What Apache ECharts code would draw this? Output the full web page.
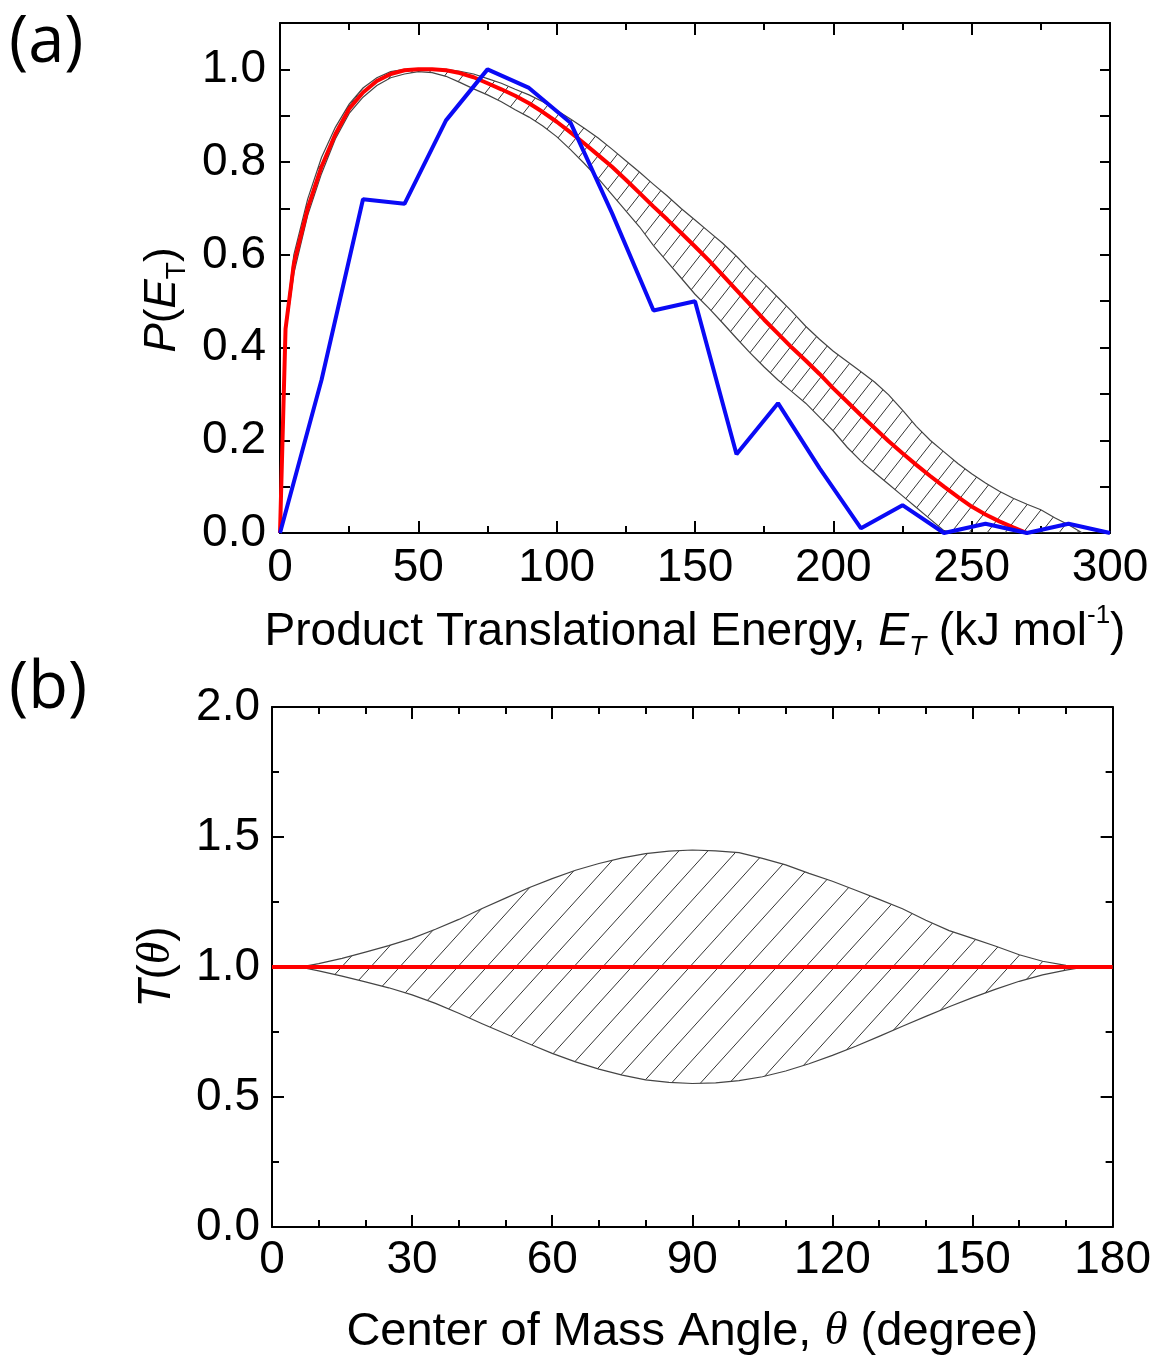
<!DOCTYPE html>
<html><head><meta charset="utf-8">
<script src="https://cdn.jsdelivr.net/npm/echarts@6/dist/echarts.min.js"></script>
<style>html,body{margin:0;padding:0;background:#fff}#c{width:1154px;height:1362px}</style>
</head><body><div id="c"></div>
<script>
// ---------- Panel (a) data ----------
const energyBlue = [0,15,30,45,60,75,90,105,120,135,150,165,180,195,210,225,240,255,270,285,300];
const pBlue      = [0,0.33,0.72,0.71,0.89,1.0,0.96,0.885,0.69,0.48,0.50,0.17,0.28,0.14,0.01,0.06,0.0,0.02,0.0,0.02,0.0];

const energyRed = [0,2,5,10,15,20,25,30,35,40,45,50,55,60,65,70,75,80,85,90,95,100,105,110,115,120,125,130,135,140,145,150,155,160,165,170,175,180,185,190,195,200,205,210,215,220,225,230,235,240,245,250,255,260,265,270];
const pRed      = [0,0.44,0.58,0.70,0.79,0.86,0.915,0.95,0.975,0.99,0.998,1.0,1.0,0.998,0.992,0.983,0.97,0.957,0.943,0.927,0.908,0.887,0.864,0.84,0.815,0.79,0.762,0.733,0.704,0.676,0.647,0.618,0.588,0.556,0.524,0.492,0.46,0.43,0.40,0.372,0.343,0.312,0.283,0.254,0.226,0.198,0.172,0.147,0.123,0.10,0.078,0.057,0.04,0.025,0.012,0.0];

const energyBand = [0,2,5,10,15,20,25,30,35,40,45,50,55,60,65,70,75,80,85,90,95,100,105,110,115,120,125,130,135,140,145,150,155,160,165,170,175,180,185,190,195,200,205,210,215,220,225,230,235,240,245,250,255,260,265,270,275,280,285,290];
const pUpper = [0,0.45,0.60,0.72,0.81,0.875,0.925,0.96,0.982,0.995,1.0,1.0,1.0,1.0,0.996,0.99,0.98,0.97,0.957,0.945,0.93,0.912,0.893,0.873,0.852,0.828,0.803,0.778,0.752,0.727,0.70,0.675,0.65,0.625,0.597,0.566,0.538,0.508,0.478,0.446,0.418,0.392,0.37,0.348,0.325,0.298,0.265,0.23,0.20,0.175,0.15,0.128,0.108,0.09,0.075,0.062,0.05,0.033,0.018,0.0];
const pLower = [0,0.43,0.56,0.685,0.775,0.85,0.905,0.94,0.965,0.982,0.99,0.995,0.993,0.985,0.972,0.958,0.945,0.93,0.913,0.897,0.878,0.855,0.827,0.797,0.765,0.73,0.695,0.66,0.62,0.585,0.55,0.515,0.485,0.453,0.42,0.388,0.358,0.33,0.305,0.28,0.25,0.22,0.185,0.155,0.13,0.105,0.08,0.055,0.03,0.005,0,0,0,0,0,0,0,0,0,0];

const xTicksA = [0,50,100,150,200,250,300];
const yTicksA = [0,0.2,0.4,0.6,0.8,1.0];

// ---------- Panel (b) data ----------
const thetaBand = [6,10,15,20,25,30,35,40,45,50,55,60,65,70,75,80,85,90,95,100,105,110,115,120,125,130,135,140,145,150,155,160,165,170,174];
const tUpper = [1.0,1.013,1.033,1.057,1.082,1.11,1.145,1.183,1.225,1.265,1.305,1.34,1.372,1.398,1.42,1.436,1.446,1.45,1.447,1.44,1.418,1.393,1.36,1.33,1.295,1.26,1.224,1.18,1.14,1.11,1.08,1.047,1.022,1.006,1.0];
const tLower = [1.0,0.985,0.965,0.943,0.92,0.893,0.86,0.822,0.782,0.743,0.705,0.668,0.635,0.607,0.584,0.566,0.556,0.552,0.554,0.563,0.578,0.60,0.628,0.66,0.695,0.733,0.772,0.81,0.847,0.882,0.915,0.945,0.97,0.988,1.0];
const thetaRed = [0,180];
const tRed = [1.0,1.0];

const xTicksB = [0,30,60,90,120,150,180];
const yTicksB = [0,0.5,1.0,1.5,2.0];

// ---------- helpers ----------
function zip(xs, ys){ return xs.map((x,i)=>[x, ys[i]]); }
function makeHatch(w, h, color, lw){
  const c = document.createElement('canvas'); c.width = w; c.height = h;
  const g = c.getContext('2d'); g.strokeStyle = color; g.lineWidth = lw;
  g.beginPath();
  for (const dx of [-w, 0, w]) { g.moveTo(dx, h); g.lineTo(dx + w, 0); }
  g.stroke();
  return c;
}
const hatchA = makeHatch(18, 23, '#333', 1);
const hatchB = makeHatch(29, 32, '#333', 1);

function bandRenderer(xs, up, lo, pattern){
  return function(params, api){
    const pts = [];
    for (let i = 0; i < xs.length; i++) pts.push(api.coord([xs[i], up[i]]));
    for (let i = xs.length - 1; i >= 0; i--) pts.push(api.coord([xs[i], lo[i]]));
    return {type:'polygon', shape:{points:pts},
      style:{fill:{type:'pattern', image:pattern, repeat:'repeat'}, stroke:'#444', lineWidth:1.2}};
  };
}

const FONT = 'Liberation Sans';
const axisLineStyle = {show:true, onZero:false, lineStyle:{color:'#000', width:2}};
function tickStyle(len){ return {show:true, inside:true, length:len, lineStyle:{color:'#000', width:2}}; }
function minor(n){ return {show:true, splitNumber:n, length:7, lineStyle:{color:'#000', width:2}}; }
const labelStyle = {fontFamily:FONT, fontSize:46, color:'#000'};

const chart = echarts.init(document.getElementById('c'), null, {renderer:'canvas'});
chart.setOption({
  animation:false,
  backgroundColor:'#fff',
  textStyle:{fontFamily:FONT},
  graphic:[
    {type:'text', left:9, top:11, style:{text:'(a)', font:'65px "Open Sans"', fill:'#000'}},
    {type:'text', left:9, top:657, style:{text:'(b)', font:'65px "Open Sans"', fill:'#000'}}
  ],
  grid:[
    {left:280, top:23, width:830, height:510},
    {left:272, top:707, width:844, height:521}
  ],
  xAxis:[
    {gridIndex:0, type:'value', position:'bottom', min:0, max:300, interval:50,
     axisLine:axisLineStyle, axisTick:tickStyle(12), minorTick:minor(2), splitLine:{show:false},
     axisLabel:Object.assign({margin:12, customValues:xTicksA}, labelStyle),
     name:'Product Translational Energy, {i|E}{sub|T} (kJ mol{sup|-1})',
     nameLocation:'middle', nameGap:70,
     nameTextStyle:{fontFamily:FONT, fontSize:46, color:'#000', lineHeight:58,
       rich:{i:{fontFamily:FONT, fontStyle:'italic', fontSize:46, lineHeight:58},
             sub:{fontFamily:FONT, fontStyle:'italic', fontSize:28, lineHeight:28, verticalAlign:'bottom'},
             sup:{fontFamily:FONT, fontSize:26, lineHeight:26, verticalAlign:'top'}}}},
    {gridIndex:0, type:'value', position:'top', min:0, max:300, interval:50,
     axisLine:axisLineStyle, axisTick:tickStyle(12), minorTick:minor(2), splitLine:{show:false},
     axisLabel:{show:false}},
    {gridIndex:1, type:'value', position:'bottom', min:0, max:180, interval:30,
     axisLine:axisLineStyle, axisTick:tickStyle(12), minorTick:minor(3), splitLine:{show:false},
     axisLabel:Object.assign({margin:10, customValues:xTicksB}, labelStyle),
     name:'Center of Mass Angle, {th|θ} (degree)',
     nameLocation:'middle', nameGap:76,
     nameTextStyle:{fontFamily:FONT, fontSize:47, color:'#000', lineHeight:58,
       rich:{th:{fontFamily:'Liberation Serif', fontStyle:'italic', fontSize:47, lineHeight:58}}}},
    {gridIndex:1, type:'value', position:'top', min:0, max:180, interval:30,
     axisLine:axisLineStyle, axisTick:tickStyle(12), minorTick:minor(3), splitLine:{show:false},
     axisLabel:{show:false}}
  ],
  yAxis:[
    {gridIndex:0, type:'value', position:'left', min:0, max:1.1, interval:0.1,
     axisLine:axisLineStyle, axisTick:tickStyle(10), splitLine:{show:false},
     axisLabel:Object.assign({margin:14, customValues:yTicksA, formatter:v=>v.toFixed(1)}, labelStyle),
     name:'{i|P}({i|E}{sub|T})', nameLocation:'middle', nameGap:80, nameRotate:90,
     nameTextStyle:{fontFamily:FONT, fontSize:44, color:'#000', lineHeight:56, padding:[0,44,0,0],
       rich:{i:{fontFamily:FONT, fontStyle:'italic', fontSize:44, lineHeight:56},
             sub:{fontFamily:FONT, fontSize:28, lineHeight:28, verticalAlign:'bottom'}}}},
    {gridIndex:0, type:'value', position:'right', min:0, max:1.1, interval:0.1,
     axisLine:axisLineStyle, axisTick:tickStyle(10), splitLine:{show:false},
     axisLabel:{show:false}},
    {gridIndex:1, type:'value', position:'left', min:0, max:2, interval:0.5,
     axisLine:axisLineStyle, axisTick:tickStyle(12), minorTick:minor(2), splitLine:{show:false},
     axisLabel:Object.assign({margin:12, customValues:yTicksB, formatter:v=>v.toFixed(1)}, labelStyle),
     name:'{i|T}({th|θ})', nameLocation:'middle', nameGap:72, nameRotate:90,
     nameTextStyle:{fontFamily:FONT, fontSize:46, color:'#000', lineHeight:56,
       rich:{i:{fontFamily:FONT, fontStyle:'italic', fontSize:46, lineHeight:56},
             th:{fontFamily:'Liberation Serif', fontStyle:'italic', fontSize:46, lineHeight:56}}}},
    {gridIndex:1, type:'value', position:'right', min:0, max:2, interval:0.5,
     axisLine:axisLineStyle, axisTick:tickStyle(12), minorTick:minor(2), splitLine:{show:false},
     axisLabel:{show:false}}
  ],
  series:[
    {type:'custom', xAxisIndex:0, yAxisIndex:0, clip:true, data:[0], silent:true,
     renderItem:bandRenderer(energyBand, pUpper, pLower, hatchA)},
    {type:'line', xAxisIndex:0, yAxisIndex:0, data:zip(energyRed, pRed), symbol:'none',
     lineStyle:{color:'#ff0000', width:4}},
    {type:'line', xAxisIndex:0, yAxisIndex:0, data:zip(energyBlue, pBlue), symbol:'none',
     lineStyle:{color:'#0a0af5', width:4}},
    {type:'custom', xAxisIndex:2, yAxisIndex:2, clip:true, data:[0], silent:true,
     renderItem:bandRenderer(thetaBand, tUpper, tLower, hatchB)},
    {type:'line', xAxisIndex:2, yAxisIndex:2, data:zip(thetaRed, tRed), symbol:'none',
     lineStyle:{color:'#ff0000', width:4}}
  ]
});
</script>
</body></html>
